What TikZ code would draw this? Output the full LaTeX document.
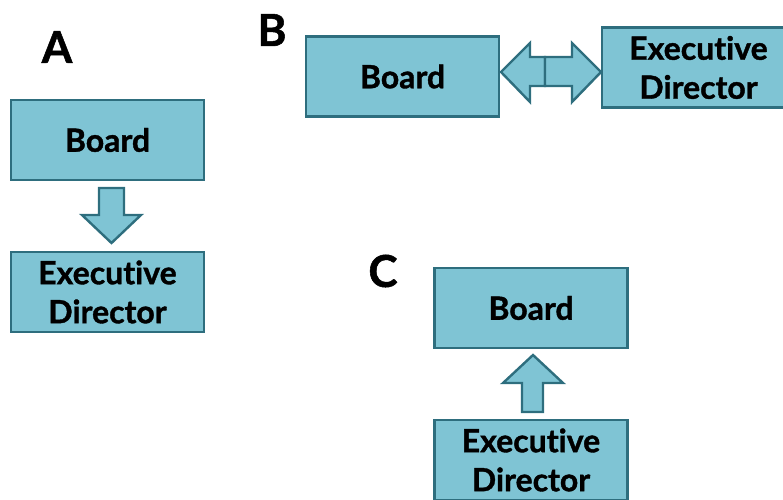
\documentclass[tikz,border=0pt]{standalone}
\usepackage{fontspec}
\setmainfont[Ligatures=NoCommon, BoldFeatures={FakeBold=1.2}]{Lato}
\definecolor{boxfill}{HTML}{7FC4D4}
\definecolor{boxline}{HTML}{2E6E7E}
\tikzset{
  orgbox/.style={draw=boxline, fill=boxfill, line width=2.4pt, minimum width=193pt,
    minimum height=80pt, inner sep=0pt, align=center,
    font=\bfseries\fontsize{32}{39}\selectfont},
  blockarrow/.style={draw=boxline, fill=boxfill, line width=2.4pt, line join=miter},
  caselabel/.style={font=\bfseries\fontsize{44}{44}\selectfont}
}
\begin{document}
\begin{tikzpicture}[x=1pt, y=-1pt]
  \useasboundingbox (0,0) rectangle (783,499);

  % Case A: board above director
  \node[caselabel] (labA) at (57,47) {A};
  \node[orgbox] (boardA) at (107.5,140) {Board};
  \node[orgbox] (execA) at (107.5,292) {Executive\\Director};
  \draw[blockarrow] (99,188) -- (124,188) -- (124,215) -- (141,215) -- (111.5,243)
    -- (82,215) -- (99,215) -- cycle; % down arrow

  % Case B: side by side, two-way arrow
  \node[caselabel] (labB) at (272,30) {B};
  \node[orgbox] (boardB) at (402.5,76.5) {Board};
  \node[orgbox] (execB) at (698.5,67.5) {Executive\\Director};
  \draw[blockarrow] (545,57) -- (530,57) -- (530,43) -- (501,72) -- (530,102)
    -- (530,86) -- (545,86) -- cycle; % left half
  \draw[blockarrow] (545,57) -- (572,57) -- (572,43) -- (601,72) -- (572,102)
    -- (572,86) -- (545,86) -- cycle; % right half

  % Case C: director below, arrow pointing up
  \node[caselabel] (labC) at (383,271) {C};
  \node[orgbox] (boardC) at (531,308) {Board};
  \node[orgbox] (execC) at (531,460) {Executive\\Director};
  \draw[blockarrow] (522,412) -- (543,412) -- (543,383) -- (563,383) -- (533,355)
    -- (503,383) -- (522,383) -- cycle; % up arrow
\end{tikzpicture}
\end{document}
